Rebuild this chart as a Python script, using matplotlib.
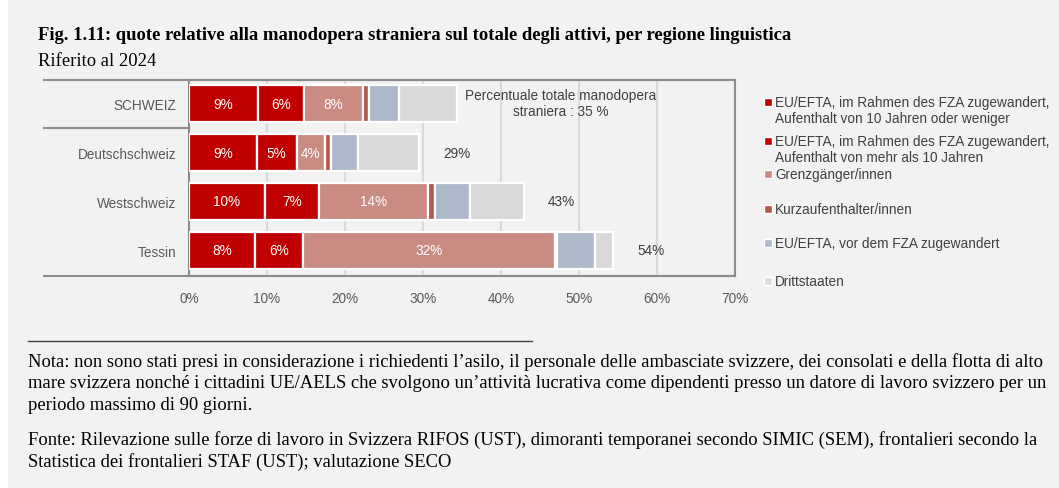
import numpy as np
import matplotlib.pyplot as plt
from matplotlib.lines import Line2D
from matplotlib.patches import Rectangle

regions = ["SCHWEIZ", "Deutschschweiz", "Westschweiz", "Tessin"]
series = [
    "EU/EFTA, im Rahmen des FZA zugewandert,\nAufenthalt von 10 Jahren oder weniger",
    "EU/EFTA, im Rahmen des FZA zugewandert,\nAufenthalt von mehr als 10 Jahren",
    "Grenzgänger/innen",
    "Kurzaufenthalter/innen",
    "EU/EFTA, vor dem FZA zugewandert",
    "Drittstaaten",
]
colors = ["#c00000", "#c00000", "#c98b82", "#b5584c", "#adb9ca", "#d9d9d9"]

# shares in % per region, one list per series
eu_short = [8.9, 8.7, 9.7, 8.4]
eu_long = [5.8, 5.1, 7.0, 6.2]
cross_border = [7.6, 3.6, 13.9, 32.3]
short_stay = [0.8, 0.8, 0.9, 0.3]
eu_pre = [3.8, 3.5, 4.5, 4.9]
third = [7.4, 7.8, 6.9, 2.3]
totals = [35, 29, 43, 54]
values = [eu_short, eu_long, cross_border, short_stay, eu_pre, third]

BG = "#f2f2f2"
W, H = 1059, 489
fig = plt.figure(figsize=(W / 100, H / 100), dpi=100, facecolor="white")
fig.patches.append(Rectangle((8 / W, 0), 1, 1, transform=fig.transFigure,
                             facecolor=BG, edgecolor="none", zorder=-10))

def fx(px):
    return px / W

def fy(py):
    return 1 - py / H

SANS = "Liberation Sans"
FS = 9.8

ax = fig.add_axes([fx(189), fy(277), fx(735) - fx(189), fy(81) - fy(277)])
ax.set_facecolor(BG)

y = np.arange(len(regions))
left = np.zeros(len(regions))
for k, (vals, col) in enumerate(zip(values, colors)):
    vals = np.array(vals)
    ax.barh(y, vals, left=left, height=0.76, color=col, edgecolor="white",
            linewidth=1.6, zorder=3)
    if k < 3:
        for yi, l, v in zip(y, left, vals):
            ax.text(l + v / 2, yi, f"{v:.0f}%", ha="center", va="center",
                    color="white", fontsize=FS, family=SANS, zorder=4)
    left = left + vals

for yi, tot, t in zip(y, left, totals):
    if yi == 0:
        ax.text(47.7, yi - 0.02, f"Percentuale totale manodopera\nstraniera : {t} %",
                ha="center", va="center", fontsize=FS, color="#404040",
                family=SANS, linespacing=1.15)
    else:
        ax.text(tot + 4.9, yi, f"{t}%", ha="center", va="center", fontsize=FS,
                color="#404040", family=SANS)

ax.set_xlim(0, 70)
ax.set_ylim(3.53, -0.49)
ax.set_xticks(np.arange(0, 71, 10))
ax.set_xticklabels([f"{v}%" for v in range(0, 71, 10)])
ax.set_yticks(y)
ax.set_yticklabels(regions)
ax.tick_params(length=0, labelsize=FS, colors="#595959", pad=9)
ax.tick_params(axis="x", pad=11)
for lab in ax.get_xticklabels() + ax.get_yticklabels():
    lab.set_family(SANS)
ax.grid(axis="x", color="#d9d9d9", linewidth=1.5, zorder=0)
ax.set_axisbelow(True)
for s in ax.spines.values():
    s.set_color("#8c8c8c")
    s.set_linewidth(1.5)

# frame lines extending over the category labels
for yy in (81, 277, 129):
    x1 = 735 if yy != 129 else 189
    fig.add_artist(Line2D([fx(44), fx(x1)], [fy(yy), fy(yy)], color="#8c8c8c",
                          linewidth=1.5, transform=fig.transFigure))

# legend
leg_y = [103, 142, 175, 210, 244, 282]
for lab, col, ly in zip(series, colors, leg_y):
    fig.patches.append(Rectangle((fx(764), fy(ly + 4)), 8 / W, 8 / H,
                                 transform=fig.transFigure, facecolor=col,
                                 edgecolor="white", linewidth=1))
    for i, line in enumerate(lab.split("\n")):
        fig.text(fx(775), fy(ly + 16 * i), line, ha="left", va="center",
                 fontsize=FS, color="#404040", family=SANS)

serif = "Liberation Serif"
fig.text(fx(38), fy(35), "Fig. 1.11: quote relative alla manodopera straniera sul totale degli attivi, per regione linguistica",
         ha="left", va="center", fontsize=13.4, fontweight="bold", family=serif)
fig.text(fx(38), fy(61), "Riferito al 2024", ha="left", va="center", fontsize=13.4, family=serif)

fig.add_artist(Line2D([fx(28), fx(532)], [fy(342), fy(342)], color="#404040",
                      linewidth=1, transform=fig.transFigure))
notes = [
    (362, "Nota: non sono stati presi in considerazione i richiedenti l’asilo, il personale delle ambasciate svizzere, dei consolati e della flotta di alto"),
    (384, "mare svizzera nonché i cittadini UE/AELS che svolgono un’attività lucrativa come dipendenti presso un datore di lavoro svizzero per un"),
    (406, "periodo massimo di 90 giorni."),
    (440, "Fonte: Rilevazione sulle forze di lavoro in Svizzera RIFOS (UST), dimoranti temporanei secondo SIMIC (SEM), frontalieri secondo la"),
    (462, "Statistica dei frontalieri STAF (UST); valutazione SECO"),
]
for ny, txt in notes:
    fig.text(fx(28), fy(ny), txt, ha="left", va="center", fontsize=13.4, family=serif)

fig.savefig("out.png", dpi=100, facecolor=fig.get_facecolor())
